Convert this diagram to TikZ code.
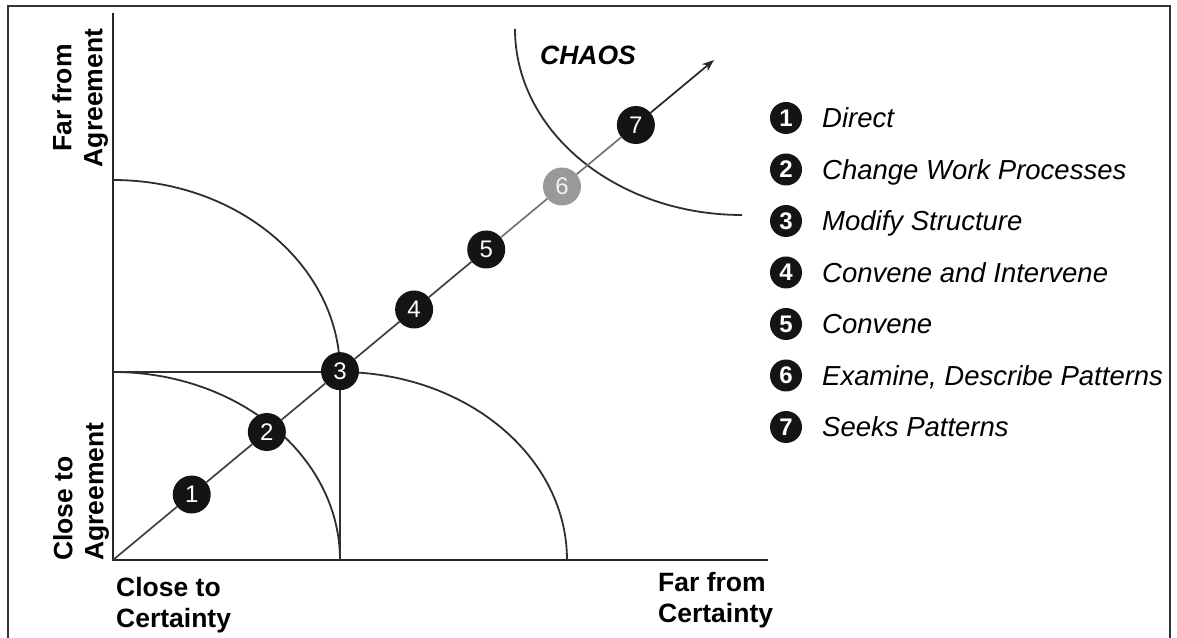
\documentclass[tikz,border=0pt]{standalone}
\usepackage{fontspec}
\setmainfont{Liberation Sans}
\usetikzlibrary{arrows.meta,calc}
\begin{document}
\begin{tikzpicture}[x=1pt,y=1pt,
  axisline/.style={line width=2.2pt, draw=black!85},
  arcline/.style={line width=1.8pt, draw=black!82},
  diag/.style={line width=1.7pt, draw=black!75},
  dot/.style={circle, fill=black!92, text=white, minimum size=38pt, inner sep=0pt, font=\fontsize{24}{24}\selectfont},
  gdot/.style={dot, fill=black!40, text=black!5},
  ldot/.style={circle, fill=black!92, text=white, minimum size=32pt, inner sep=0pt, font=\bfseries\fontsize{24}{24}\selectfont},
  ltext/.style={anchor=base west, inner sep=0pt, font=\itshape\fontsize{27.5}{27.5}\selectfont},
  lbl/.style={inner sep=0pt, font=\bfseries\fontsize{26.5}{31}\selectfont},
]
\useasboundingbox (0,0) rectangle (1177,637);
\fill[white] (0,0) rectangle (1177,637);
% frame (top, left, right)
\draw[line width=2pt, black!80] (8,-5) -- (8,631) -- (1170,631) -- (1170,-5);

% axes
\coordinate (O) at (113,77);
\coordinate (ytop) at (113,624);
\coordinate (xend) at (768,77);
\draw[axisline] (ytop) -- (O) -- (xend);

% zone arcs and lines
\draw[arcline] (113,265) arc[start angle=90, end angle=0, x radius=227, y radius=188];
\draw[arcline] (113,457) arc[start angle=90, end angle=0, x radius=227, y radius=192];
\draw[arcline] (340,265) arc[start angle=90, end angle=0, x radius=227, y radius=188];
\draw[arcline] (113,265) -- (340,265) -- (340,77);
% chaos arc
\draw[arcline] (515,608) arc[start angle=180, end angle=270, x radius=227, y radius=186];
\node[anchor=north west, inner sep=0pt, font=\bfseries\itshape\fontsize{26.5}{26.5}\selectfont] (chaos) at (540,591) {CHAOS};

% diagonal
\coordinate (tip) at (714,577);
\node[dot]  (c1) at ($(O)!0.131!(tip)$) {1};
\node[dot]  (c2) at ($(O)!0.256!(tip)$) {2};
\node[dot]  (c3) at ($(O)!0.3777!(tip)$) {3};
\node[dot]  (c4) at ($(O)!0.501!(tip)$) {4};
\node[dot]  (c5) at ($(O)!0.621!(tip)$) {5};
\node[gdot] (c6) at ($(O)!0.747!(tip)$) {6};
\node[dot]  (c7) at ($(O)!0.870!(tip)$) {7};
\draw[diag] (O) -- (c1) -- (c2) -- (c3) -- (c4) -- (c5);
\draw[diag, draw=black!55] (c5) -- (c6) -- (c7);
\draw[diag, draw=black!85, -{Stealth[length=12pt, width=9pt]}] (c7) -- (tip);

% axis labels
\node[lbl, anchor=north west, align=left] (lx1) at (116,60) {Close to\\Certainty};
\node[lbl, anchor=north west, align=left] (lx2) at (658,65) {Far from\\Certainty};
\node[lbl, rotate=90, anchor=north west, align=left] (ly1) at (53,76) {Close to\\Agreement};
\node[lbl, rotate=90, align=center] (ly2) at (80,539) {Far from\\Agreement};

% legend
\foreach \k/\t/\yy in {1/Direct/519, 2/Change Work Processes/467.5, 3/Modify Structure/416,
  4/Convene and Intervene/364.5, 5/Convene/313, 6/{Examine, Describe Patterns}/261.5, 7/Seeks Patterns/210}{
  \node[ldot] (l\k) at (786,\yy) {\k};
  \node[ltext] (t\k) at (822,\yy-9.7) {\t};
}
\end{tikzpicture}
\end{document}
